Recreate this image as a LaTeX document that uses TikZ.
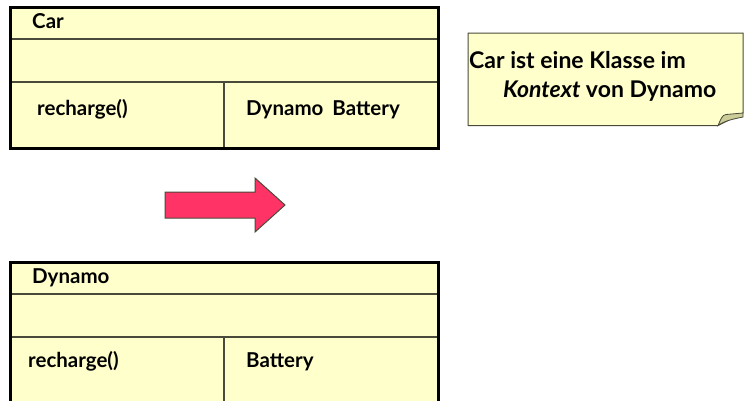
\documentclass[tikz,border=0pt]{standalone}
\usepackage{fontspec}
\setmainfont{Lato}[BoldFont={Lato Bold},BoldItalicFont={Lato Bold Italic}]
\definecolor{classfill}{HTML}{FFFFCC}
\definecolor{innerline}{HTML}{4A4A3A}
\definecolor{arrowred}{HTML}{FF3366}
\definecolor{foldfill}{HTML}{CCCC99}
\begin{document}
\begin{tikzpicture}[x=1pt,y=-1pt,
  classbox/.style={fill=classfill,draw=black,line width=3pt},
  innerrule/.style={draw=innerline,line width=1.2pt},
  lbl/.style={anchor=base west,inner sep=0pt,font=\bfseries\fontsize{20.5}{24}\selectfont},
  notetext/.style={anchor=base west,inner sep=0pt,font=\bfseries\fontsize{23}{27}\selectfont}]
\useasboundingbox (0,0) rectangle (744,400);
% Car class
\draw[classbox] (10,7) rectangle (438,148);
\draw[innerrule] (10,39) -- (438,39);
\draw[innerrule] (10,82) -- (438,82);
\draw[innerrule] (224,82) -- (224,148);
\draw[line width=3pt] (10,7) rectangle (438,148);
\node[lbl] (carname) at (32,28) {Car};
\node[lbl] (carop) at (37,115) {recharge()};
\node[lbl] (carattr) at (246,115) {Dynamo\hspace{9pt}Battery};
% Note
\draw[fill=classfill,draw=innerline,line width=1pt] (468,33) -- (743,33) -- (743,113) -- (718,125.5) -- (468,125.5) -- cycle;
\draw[fill=foldfill,draw=innerline,line width=0.8pt] (718,125.5) .. controls (721,119) and (722,115) .. (726,114.5) -- (743,113) -- (743,117) .. controls (733,119) and (724,121) .. (718,125.5) -- cycle;
\node[notetext] (note1) at (469,68) {Car ist eine Klasse im};
\node[notetext] (note2) at (503,97) {\textit{Kontext} von Dynamo};
% Arrow
\draw[fill=arrowred,draw=innerline,line width=1pt] (165,192) -- (255,192) -- (255,178) -- (285,205) -- (255,232) -- (255,218) -- (165,218) -- cycle;
% Dynamo class
\draw[classbox] (10,262) rectangle (438,410);
\draw[innerrule] (10,294) -- (438,294);
\draw[innerrule] (10,337) -- (438,337);
\draw[innerrule] (224,337) -- (224,410);
\draw[line width=3pt] (10,262) rectangle (438,410);
\node[lbl] (dynname) at (32,283) {Dynamo};
\node[lbl] (dynop) at (28,367) {recharge()};
\node[lbl] (dynattr) at (246,367) {Battery};
\end{tikzpicture}
\end{document}
